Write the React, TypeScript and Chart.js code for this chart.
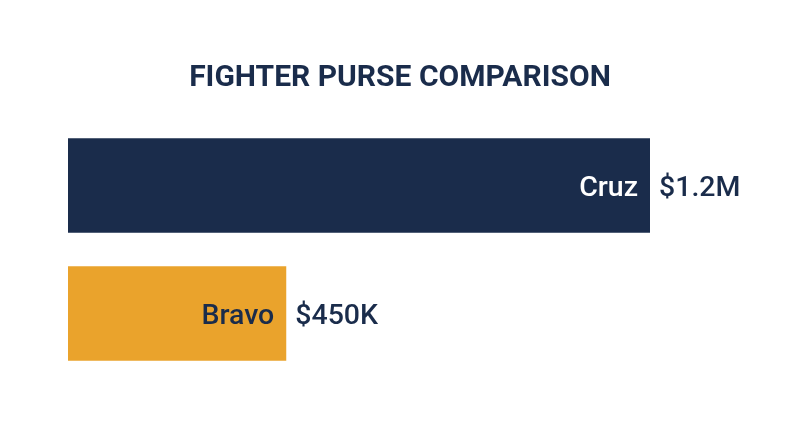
import { useEffect, useRef } from 'react';
import Chart from 'chart.js/auto';

const fighters = ['Cruz', 'Bravo'];
const purses = [1200000, 450000];
const purseLabels = ['$1.2M', '$450K'];
const barColors = ['#1a2c4b', '#eaa32c'];
const nameColors = ['#ffffff', '#1a2c4b'];
const title = 'FIGHTER PURSE COMPARISON';

const NAVY = '#1a2c4b';
const FONT = 'Roboto, "Noto Sans", sans-serif';

// title centred on the whole canvas, not on the bar area
const titlePlugin = {
  id: 'pageTitle',
  afterDraw(chart: any) {
    const { ctx, width } = chart;
    ctx.save();
    ctx.font = `bold 30px ${FONT}`;
    ctx.fillStyle = NAVY;
    ctx.textAlign = 'center';
    ctx.textBaseline = 'alphabetic';
    ctx.fillText(title, width / 2, 86);
    ctx.restore();
  },
};

// names inside the bar end, amounts just outside it
const barTextPlugin = {
  id: 'barText',
  afterDatasetsDraw(chart: any) {
    const { ctx } = chart;
    const meta = chart.getDatasetMeta(0);
    ctx.save();
    ctx.font = `500 28.5px ${FONT}`;
    ctx.textBaseline = 'alphabetic';
    meta.data.forEach((bar: any, i: number) => {
      const y = bar.y + 10;
      ctx.fillStyle = nameColors[i];
      ctx.textAlign = 'right';
      ctx.fillText(fighters[i], bar.x - 12, y);
      ctx.fillStyle = NAVY;
      ctx.textAlign = 'left';
      ctx.fillText(purseLabels[i], bar.x + 9, y);
    });
    ctx.restore();
  },
};

export default function App() {
  const chartRef = useRef<HTMLCanvasElement>(null);

  useEffect(() => {
    if (!chartRef.current) return;
    const chart = new Chart(chartRef.current, {
      type: 'bar',
      data: {
        labels: fighters,
        datasets: [
          {
            data: purses,
            backgroundColor: barColors,
            borderWidth: 0,
            categoryPercentage: 1,
            barPercentage: 0.74,
          },
        ],
      },
      options: {
        indexAxis: 'y',
        responsive: false,
        animation: false,
        layout: {
          padding: { left: 68, right: 150, top: 121.5, bottom: 69.5 },
        },
        scales: {
          x: { display: false, min: 0, max: 1200000 },
          y: { display: false },
        },
        plugins: {
          legend: { display: false },
          tooltip: { enabled: false },
          title: { display: false },
        },
      },
      plugins: [titlePlugin, barTextPlugin],
    });
    return () => chart.destroy();
  }, []);

  return (
    <div style={{ position: 'fixed', left: 0, top: 0, width: 800, height: 447, background: '#fff' }}>
      <canvas ref={chartRef} width={800} height={447} style={{ width: 800, height: 447 }} />
    </div>
  );
}
